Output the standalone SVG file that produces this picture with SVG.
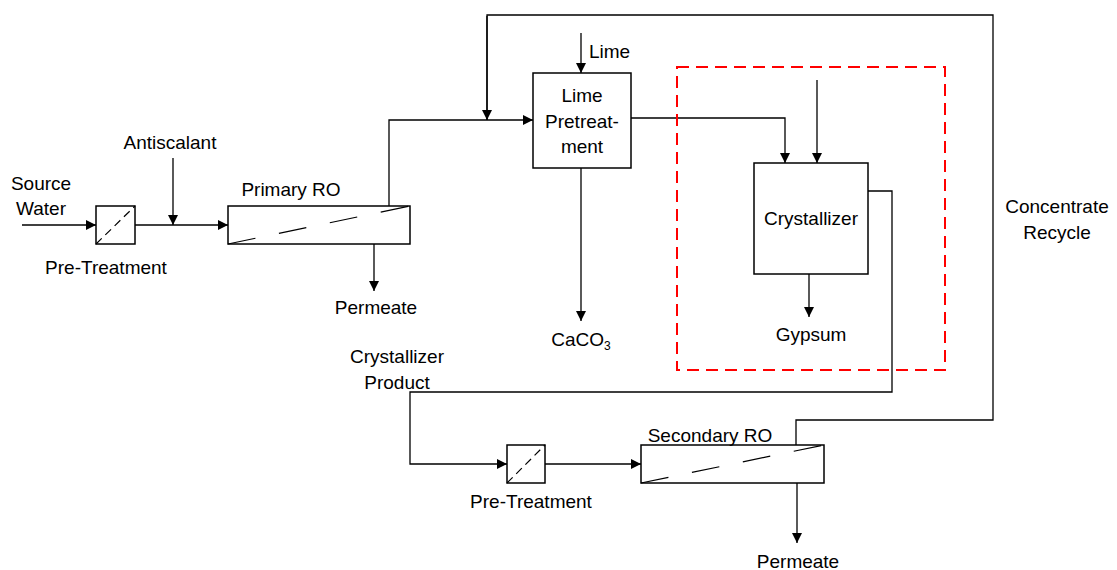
<svg xmlns="http://www.w3.org/2000/svg" width="1117" height="570" viewBox="0 0 1117 570">
<style>
text{font-family:"Liberation Sans",Arial,sans-serif;font-size:19px;fill:#000}
.b{fill:#fff;stroke:#000;stroke-width:1.5}
.c{fill:none;stroke:#000;stroke-width:1.3}
.dl{fill:none;stroke:#000;stroke-width:1.2;stroke-dasharray:28 24}
.ds{fill:none;stroke:#000;stroke-width:1.2;stroke-dasharray:8 5}
.a{marker-end:url(#ah)}
</style>
<defs>
<marker id="ah" viewBox="0 0 10 10" refX="10" refY="5" markerWidth="10" markerHeight="10" markerUnits="userSpaceOnUse" orient="auto">
<path d="M0,0 L10,5 L0,10 z" fill="#000"/>
</marker>
</defs>
<rect width="1117" height="570" fill="#fff"/>
<g id="connectors">
<path class="c a" d="M22,225 H96"/>
<path class="c a" d="M135,225 H228"/>
<path class="c a" d="M173,158 V225"/>
<path class="c a" d="M389,206 V120 H533"/>
<path class="c" d="M487,120 V15 H993 V420 H796 V445"/>
<path class="c a" d="M487,16 V120"/>
<path class="c a" d="M374,244 V291"/>
<path class="c a" d="M581,33 V73"/>
<path class="c a" d="M581,168 V321"/>
<path class="c a" d="M631,118 H785 V163"/>
<path class="c a" d="M817,80 V163"/>
<path class="c a" d="M809,274 V317"/>
<path class="c a" d="M868,191 H892 V392 H410 V464 H507"/>
<path class="c a" d="M545,464 H641"/>
<path class="c a" d="M797,483 V543"/>
</g>
<g id="pretreatment1">
<rect class="b" x="96" y="206" width="39" height="38"/>
<path class="ds" d="M96,244 L135,206"/>
<text x="106" y="274" text-anchor="middle">Pre-Treatment</text>
</g>
<g id="primary-ro">
<rect class="b" x="228" y="206" width="182" height="38"/>
<path class="dl" d="M228,244 L410,206"/>
<text x="291" y="196" text-anchor="middle">Primary RO</text>
</g>
<g id="lime-pretreatment">
<rect class="b" x="533" y="73" width="98" height="95"/>
<text x="582" y="102" text-anchor="middle">Lime</text>
<text x="582" y="128" text-anchor="middle">Pretreat-</text>
<text x="582" y="153" text-anchor="middle">ment</text>
</g>
<g id="crystallizer">
<rect class="b" x="754" y="163" width="114" height="111"/>
<text x="811" y="225" text-anchor="middle">Crystallizer</text>
</g>
<g id="crystallizer-boundary">
<rect x="677" y="67" width="268" height="303" fill="none" stroke="#ff0000" stroke-width="2" stroke-dasharray="12 7"/>
</g>
<g id="pretreatment2">
<rect class="b" x="507" y="445" width="38" height="38"/>
<path class="ds" d="M507,483 L545,445"/>
<text x="531" y="508" text-anchor="middle">Pre-Treatment</text>
</g>
<g id="secondary-ro">
<rect class="b" x="641" y="445" width="183" height="38"/>
<path class="dl" d="M641,483 L824,445"/>
<text x="710" y="442" text-anchor="middle">Secondary RO</text>
</g>
<g id="labels">
<text x="41" y="190" text-anchor="middle">Source</text>
<text x="41" y="215" text-anchor="middle">Water</text>
<text x="170" y="149" text-anchor="middle">Antiscalant</text>
<text x="376" y="314" text-anchor="middle">Permeate</text>
<text x="589" y="58">Lime</text>
<text x="581" y="346" text-anchor="middle">CaCO<tspan font-size="12" dy="4">3</tspan></text>
<text x="811" y="341" text-anchor="middle">Gypsum</text>
<text x="397" y="363" text-anchor="middle">Crystallizer</text>
<text x="397" y="389" text-anchor="middle">Product</text>
<text x="1057" y="213" text-anchor="middle">Concentrate</text>
<text x="1057" y="239" text-anchor="middle">Recycle</text>
<text x="798" y="568" text-anchor="middle">Permeate</text>
</g>
</svg>
